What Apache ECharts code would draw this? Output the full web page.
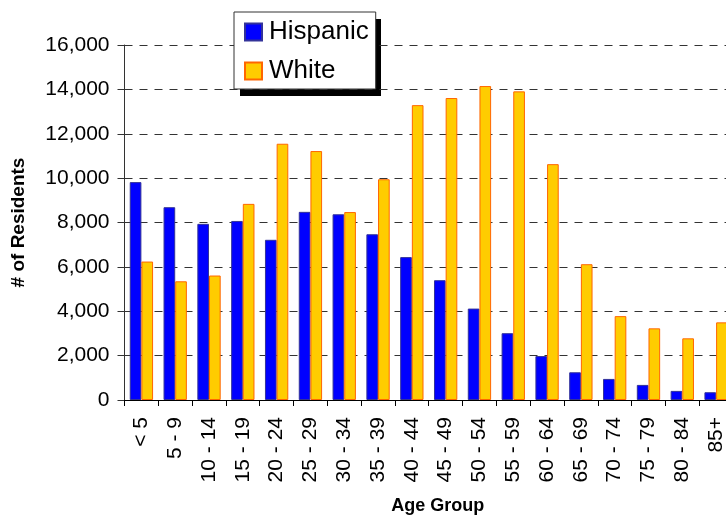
<!DOCTYPE html>
<html>
<head>
<meta charset="utf-8">
<script src="https://cdn.jsdelivr.net/npm/echarts@6/dist/echarts.min.js"></script>
<style>
html,body{margin:0;padding:0;background:#fff;}
#chart{width:726px;height:516px;}
</style>
</head>
<body>
<div id="chart"></div>
<script>
var categories = ['< 5','5 - 9','10 - 14','15 - 19','20 - 24','25 - 29','30 - 34','35 - 39','40 - 44','45 - 49','50 - 54','55 - 59','60 - 64','65 - 69','70 - 74','75 - 79','80 - 84','85+'];
var hispanic = [9820, 8690, 7940, 8070, 7220, 8480, 8370, 7470, 6440, 5400, 4120, 3010, 1980, 1250, 950, 680, 410, 350];
var white = [6240, 5350, 5610, 8840, 11550, 11220, 8470, 9950, 13290, 13610, 14150, 13910, 10630, 6120, 3780, 3230, 2780, 3500];
var seriesNames = ['Hispanic', 'White'];
var yAxisTitle = '# of Residents';
var xAxisTitle = 'Age Group';

var FONT = '"Liberation Sans", Arial, sans-serif';
var chart = echarts.init(document.getElementById('chart'), null, {renderer: 'canvas'});
chart.setOption({
  animation: false,
  backgroundColor: '#ffffff',
  textStyle: {fontFamily: FONT, color: '#000'},
  grid: {left: 124.5, top: 45, bottom: 116, right: -7, containLabel: false, outerBoundsMode: 'none'},
  graphic: [{
    type: 'rect',
    z: 0,
    silent: true,
    shape: {x: 240, y: 19, width: 141, height: 77},
    style: {fill: '#000000'}
  }],
  legend: {
    z: 10,
    data: seriesNames,
    orient: 'vertical',
    icon: 'rect',
    left: 234,
    top: 12,
    padding: [7, 7, 5, 10],
    itemWidth: 17,
    itemHeight: 17,
    itemGap: 13,
    backgroundColor: '#ffffff',
    borderColor: '#333333',
    borderWidth: 1,
    textStyle: {fontFamily: FONT, fontSize: 26, color: '#000', lineHeight: 26, padding: [0, 0, 0, 2]}
  },
  xAxis: {
    type: 'category',
    data: categories,
    name: xAxisTitle,
    nameLocation: 'middle',
    nameGap: 97,
    nameTextStyle: {fontFamily: FONT, fontSize: 18, fontWeight: 'bold', color: '#000', padding: [0, 0, 0, 18]},
    axisLine: {show: true, lineStyle: {color: '#000', width: 1}},
    axisTick: {show: true, length: 6, lineStyle: {color: '#000'}},
    axisLabel: {rotate: 90, fontFamily: FONT, fontSize: 21, color: '#000', margin: 17, interval: 0}
  },
  yAxis: {
    type: 'value',
    min: 0,
    max: 16000,
    interval: 2000,
    name: yAxisTitle,
    nameLocation: 'middle',
    nameGap: 96,
    nameRotate: 90,
    nameTextStyle: {fontFamily: FONT, fontSize: 19, fontWeight: 'bold', color: '#000'},
    axisLine: {show: true, lineStyle: {color: '#333', width: 1}},
    axisTick: {show: true, length: 7, lineStyle: {color: '#333'}},
    axisLabel: {
      fontFamily: FONT, fontSize: 21, color: '#000', margin: 15,
      formatter: function (v) { return v.toLocaleString('en-US'); }
    },
    splitLine: {show: true, lineStyle: {color: '#333', width: 1, type: [8, 7]}}
  },
  series: [
    {
      name: seriesNames[0],
      type: 'bar',
      data: hispanic,
      barGap: '0%',
      barCategoryGap: '31%',
      itemStyle: {color: '#0000FF', borderColor: '#333399', borderWidth: 1}
    },
    {
      name: seriesNames[1],
      type: 'bar',
      data: white,
      barGap: '0%',
      barCategoryGap: '31%',
      itemStyle: {color: '#FFCC00', borderColor: '#FF6600', borderWidth: 1}
    }
  ]
});
</script>
</body>
</html>
